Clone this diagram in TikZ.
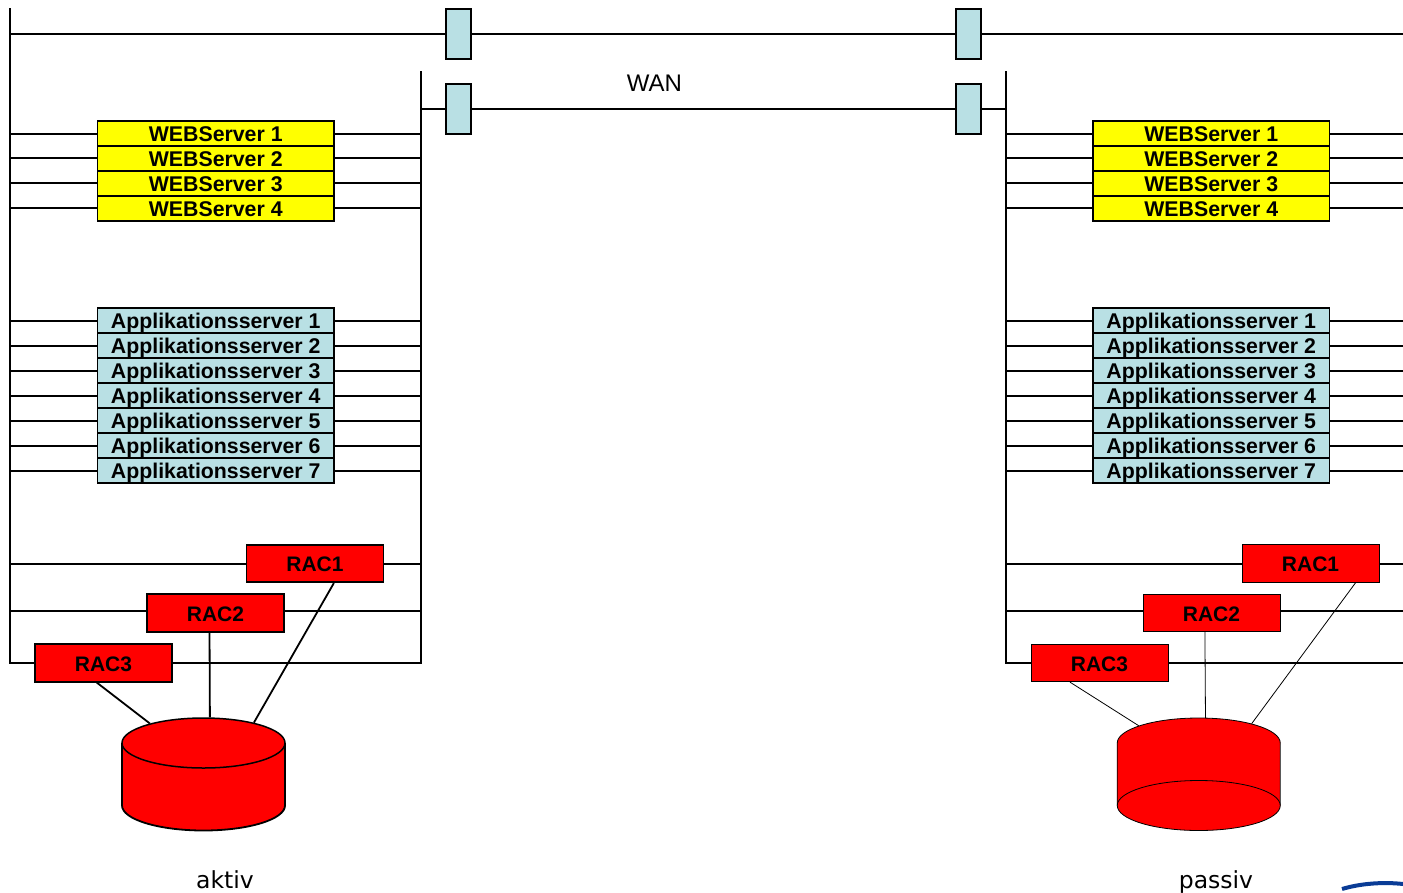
\documentclass[tikz,border=0pt]{standalone}
\usepackage{fontspec}
\setmainfont{Liberation Sans}
\newfontfamily\labelfont{DejaVu Sans}
\usepackage{tikz}
\usetikzlibrary{calc, shapes.geometric}
\definecolor{figcyan}{RGB}{185,224,228}
\definecolor{figyellow}{RGB}{255,255,0}
\definecolor{figred}{RGB}{255,0,0}
\definecolor{figlogo}{RGB}{10,60,150}
\tikzset{
  netline/.style={line width=1.8pt},
  thinline/.style={line width=0.8pt},
  srvbox/.style={draw=black, line width=1.9pt, minimum width=236.5pt, minimum height=24.8pt,
                 inner sep=0pt, text height=16pt, text depth=0pt,
                 font=\fontsize{21.3}{21.3}\selectfont\bfseries},
  websrv/.style={srvbox, fill=figyellow},
  appsrv/.style={srvbox, fill=figcyan},
  racbox/.style={draw=black, fill=figred, minimum width=137pt, minimum height=37.5pt,
                 inner sep=0pt, text height=16pt, text depth=0pt,
                 font=\fontsize{21}{21}\selectfont\bfseries},
  wanbox/.style={draw=black, fill=figcyan, line width=1.8pt, minimum width=25pt,
                 minimum height=50pt, inner sep=0pt},
  disktop/.style={ellipse, fill=figred, minimum width=163pt, minimum height=50pt, inner sep=0pt},
  sitelabel/.style={text height=17pt, text depth=0pt, font=\labelfont\fontsize{23.5}{23.5}\selectfont},
}
\begin{document}
\begin{tikzpicture}[x=1pt, y=-1pt]
  \useasboundingbox (0,0) rectangle (1403,892);

  % rails of both sites
  \coordinate (aL) at (10.25,34);
  \coordinate (aR) at (421,71);
  \coordinate (bL) at (1006,71);
  \coordinate (bR) at (1403,34);
  \draw[netline] (10.25,8) -- (10.25,663) -- (421,663) -- (421,71);
  \draw[netline] (1006,71) -- (1006,663) -- (1403,663);

  % WAN
  \node[wanbox] (wanA) at (458.5,34)  {};
  \node[wanbox] (wanB) at (968.5,34)  {};
  \node[wanbox] (wanC) at (458.5,109) {};
  \node[wanbox] (wanD) at (968.5,109) {};
  \draw[netline] (aL) -- (wanA);
  \draw[netline] (wanA) -- (wanB);
  \draw[netline] (wanB) -- (bR);
  \draw[netline] (aR |- wanC) -- (wanC);
  \draw[netline] (wanC) -- (wanD);
  \draw[netline] (wanD) -- (bL |- wanD);
  \node[font=\fontsize{24}{24}\selectfont] (wan) at (654.5,83.5) {WAN};

  % WEB and application servers
  \foreach \i/\y in {1/133.75, 2/158.25, 3/183.25, 4/208.25} {
    \node[websrv] (webA\i) at (215.75,\y) {WEBServer \i};
    \node[websrv] (webB\i) at (1211.25,\y) {WEBServer \i};
    \draw[netline] (aL |- webA\i) -- (webA\i);
    \draw[netline] (webA\i) -- (aR |- webA\i);
    \draw[netline] (bL |- webB\i) -- (webB\i);
    \draw[netline] (webB\i) -- (bR |- webB\i);
  }
  \foreach \i/\y in {1/320.75, 2/345.75, 3/370.75, 4/395.75, 5/420.75, 6/445.75, 7/470.75} {
    \node[appsrv] (appA\i) at (215.75,\y) {Applikationsserver \i};
    \node[appsrv] (appB\i) at (1211.25,\y) {Applikationsserver \i};
    \draw[netline] (aL |- appA\i) -- (appA\i);
    \draw[netline] (appA\i) -- (aR |- appA\i);
    \draw[netline] (bL |- appB\i) -- (appB\i);
    \draw[netline] (appB\i) -- (bR |- appB\i);
  }

  % site A, active
  \draw[netline] (aL |- 0,564) -- (aR |- 0,564);
  \draw[netline] (aL |- 0,611) -- (aR |- 0,611);
  \node[racbox, line width=1.6pt] (racA1) at (315,563.5) {RAC1};
  \node[racbox, line width=1.6pt] (racA2) at (215.5,613) {RAC2};
  \node[racbox, line width=1.6pt] (racA3) at (103.5,663) {RAC3};
  \fill[figred] (122,743) -- (122,805.5) arc[start angle=180, end angle=360, x radius=81.5, y radius=-25]
    -- (285,743) -- cycle;
  \draw[netline] (122,743) -- (122,805.5) arc[start angle=180, end angle=360, x radius=81.5, y radius=-25]
    -- (285,743);
  \node[disktop, draw=black, line width=1.5pt] (diskA) at (203.5,743) {};
  \draw[netline] (racA1.-46) -- (diskA.22);
  \draw[netline] (racA2.-107.74) -- (diskA.76.47);
  \draw[netline] (racA3.-109) -- (diskA.160);
  \node[sitelabel] (aktiv) at (225,879.5) {aktiv};

  % site B, passive
  \draw[netline] (bL |- 0,564) -- (bR |- 0,564);
  \draw[netline] (bL |- 0,611) -- (bR |- 0,611);
  \node[racbox, thinline] (racB1) at (1310.5,563.5) {RAC1};
  \node[racbox, thinline] (racB2) at (1211.5,613) {RAC2};
  \node[racbox, thinline] (racB3) at (1099.5,663) {RAC3};
  \node[disktop] (diskB) at (1198.75,743) {};
  \fill[figred] (1117.25,743) rectangle (1280.25,805.5);
  \draw[thinline] (1117.25,805.5) -- (1117.25,743) arc[start angle=180, end angle=0, x radius=81.5, y radius=-25]
    -- (1280.25,805.5);
  \node[disktop, draw=black, thinline] (diskBb) at (1198.75,805.5) {};
  \draw[thinline] (racB1.-23.5) -- (diskB.20);
  \draw[thinline] (racB2.-109.1) -- (diskB.75.93);
  \draw[thinline] (racB3.-147) -- (diskB.164.5);
  \node[sitelabel] (passiv) at (1216,879.5) {passiv};

  % logo, cut off by the page edge
  \draw[figlogo, line width=4pt] (1342,889) .. controls (1362,883) and (1385,882) .. (1403,884);
\end{tikzpicture}
\end{document}
